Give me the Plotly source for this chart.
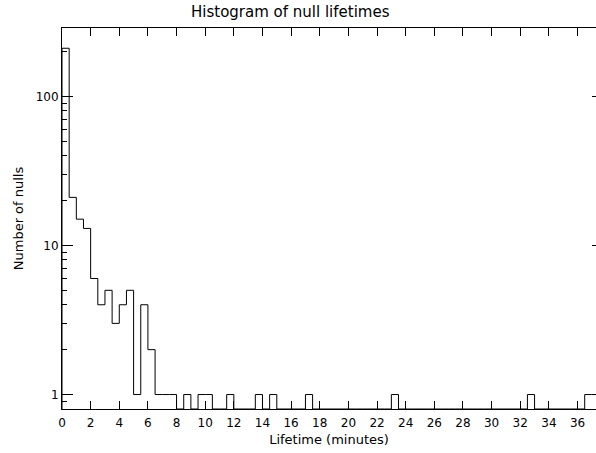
import plotly.graph_objects as go

# Histogram of null lifetimes (bin width 0.5 minutes, starting at 0)
bin_width = 0.5
counts = [
    210, 21, 15, 13, 6, 4, 5, 3, 4, 5,      # 0.0 - 4.5
    1, 4, 2, 1, 1, 1, 0, 1, 0, 1,           # 5.0 - 9.5
    1, 0, 0, 1, 0, 0, 0, 1, 0, 1,           # 10.0 - 14.5
    0, 0, 0, 0, 1, 0, 0, 0, 0, 0,           # 15.0 - 19.5
    0, 0, 0, 0, 0, 0, 1, 0, 0, 0,           # 20.0 - 24.5
    0, 0, 0, 0, 0, 0, 0, 0, 0, 0,           # 25.0 - 29.5
    0, 0, 0, 0, 0, 1, 0, 0, 0, 0,           # 30.0 - 34.5
    0, 0, 0, 1, 1                            # 35.0 - 37.0
]
x_tick_vals = list(range(0, 37, 2))
y_tick_vals = [1, 10, 100]
y_tick_text = ["1", "10", "100"]
y_minor_vals = [0.9, 2, 3, 4, 5, 6, 7, 8, 9, 20, 30, 40, 50, 60, 70, 80, 90, 200]

x_max = 37.29
y_log_range = [-0.097, 2.458]
floor_val = 10 ** y_log_range[0]

# Build stepped outline from bin edges and counts
xs = [0.0]
ys = [floor_val]
for i, c in enumerate(counts):
    v = c if c > 0 else floor_val
    xs.append(i * bin_width)
    ys.append(v)
xs.append(len(counts) * bin_width)
ys.append(ys[-1])

fig = go.Figure()
fig.add_trace(go.Scatter(
    x=xs, y=ys, mode="lines", line=dict(color="black", width=1, shape="hv"),
    showlegend=False, hoverinfo="skip"
))
# helper trace so the right-hand tick axis is drawn
fig.add_trace(go.Scatter(
    x=xs, y=ys, mode="lines", line=dict(color="rgba(0,0,0,0)", width=0),
    showlegend=False, hoverinfo="skip", yaxis="y2"
))

fname = "DejaVu Sans"
font = dict(family=fname, size=12, color="black")

fig.update_layout(
    width=596, height=453,
    margin=dict(l=62, r=0, t=28, b=44),
    paper_bgcolor="white", plot_bgcolor="white",
    font=font,
    title=dict(text="Histogram of null lifetimes", x=0.487, xanchor="center",
               y=1 - 12 / 453, yanchor="middle", font=dict(size=15, family=fname)),
    xaxis=dict(
        range=[0, x_max], tickmode="array", tickvals=x_tick_vals,
        ticks="inside", ticklen=8, tickwidth=1, tickcolor="black",
        showline=True, linecolor="black", linewidth=1, mirror="ticks",
        showgrid=False, zeroline=False, ticklabelstandoff=3,
        tickfont=dict(size=12, family=fname),
        title=dict(text="Lifetime (minutes)", standoff=5, font=dict(size=13, family=fname)),
    ),
    yaxis=dict(
        type="log", range=y_log_range, tickmode="array",
        tickvals=y_tick_vals, ticktext=y_tick_text,
        ticks="inside", ticklen=11, tickwidth=1, tickcolor="black",
        showline=True, linecolor="black", linewidth=1, mirror=False,
        showgrid=False, zeroline=False,
        tickfont=dict(size=12, family=fname),
        minor=dict(ticks="inside", ticklen=5, tickwidth=1, tickcolor="black",
                   tickvals=y_minor_vals, showgrid=False),
        title=dict(text="Number of nulls", standoff=9, font=dict(size=13, family=fname)),
    ),
    yaxis2=dict(
        type="log", range=y_log_range, overlaying="y", side="right",
        tickmode="array", tickvals=y_tick_vals, showticklabels=False,
        ticks="inside", ticklen=4, tickwidth=1, tickcolor="black",
        showline=False, showgrid=False, zeroline=False,
    ),
)

fig.write_html("out.html")
